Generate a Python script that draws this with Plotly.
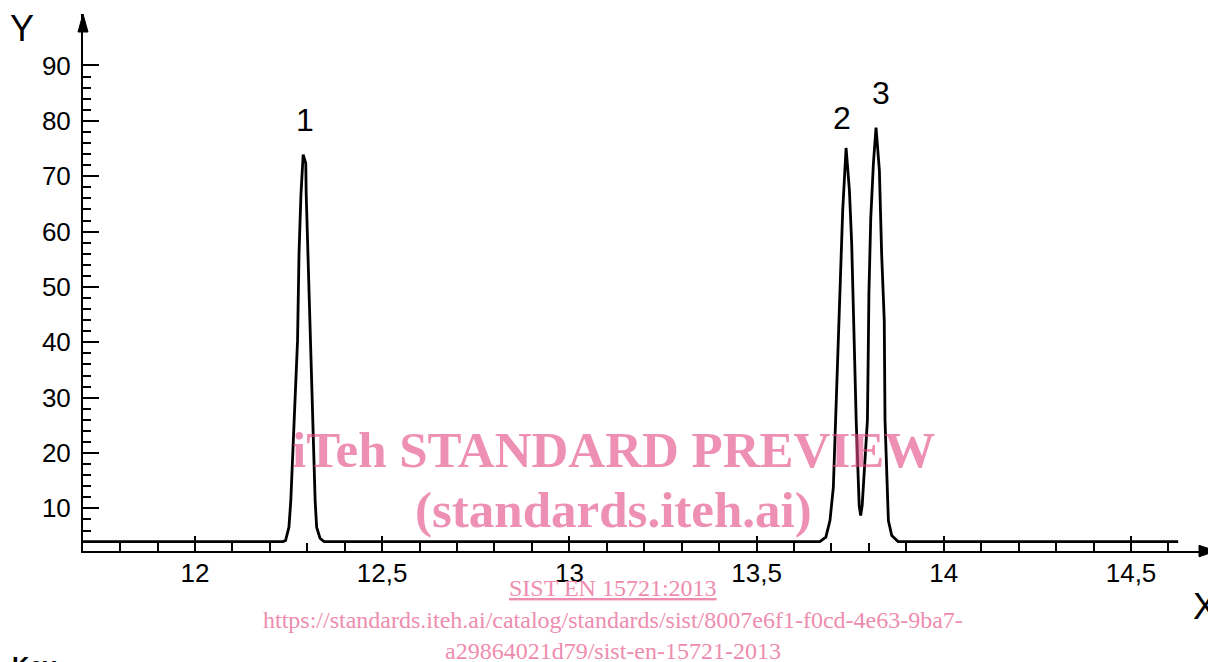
import plotly.graph_objects as go

# ---- data ----
baseline_y = 4.0
start_x = 11.701
end_x = 14.626

peak1_x = [12.235, 12.242, 12.251, 12.256, 12.264, 12.271, 12.274, 12.278, 12.283, 12.289,
           12.296, 12.297, 12.301, 12.307, 12.310, 12.316, 12.321, 12.325, 12.334, 12.345]
peak1_y = [4.0, 4.2, 6.6, 11.4, 23.5, 33.1, 40.3, 56.2, 66.5, 73.9,
           72.3, 67.0, 57.1, 45.4, 38.6, 23.5, 11.4, 6.6, 4.6, 4.0]

peak23_x = [13.669, 13.685, 13.696, 13.705, 13.711, 13.716, 13.720, 13.723, 13.730, 13.739,
            13.748, 13.754, 13.758, 13.762, 13.766, 13.772, 13.774, 13.778,
            13.782, 13.785, 13.796, 13.798, 13.799, 13.800, 13.805, 13.812, 13.819,
            13.828, 13.834, 13.841, 13.843, 13.848, 13.852, 13.861, 13.878]
peak23_y = [4.0, 4.8, 7.8, 13.8, 25.9, 36.7, 43.9, 53.0, 63.8, 75.1,
            67.4, 57.8, 43.9, 36.7, 25.9, 13.8, 10.5, 8.7,
            10.5, 13.8, 25.9, 36.7, 43.9, 48.8, 62.5, 72.3, 78.8,
            71.0, 56.0, 43.9, 25.9, 13.8, 7.8, 5.1, 4.0]

peak_labels = ["1", "2", "3"]
peak_label_x = [12.294, 13.728, 13.833]
peak_label_y = [80.2, 80.6, 85.0]

x_major = [12, 12.5, 13, 13.5, 14, 14.5]
x_major_text = ["12", "12,5", "13", "13,5", "14", "14,5"]
x_minor = [round(11.8 + 0.1 * i, 1) for i in range(29)]
y_major = [10, 20, 30, 40, 50, 60, 70, 80, 90]
y_minor = [4, 6, 8] + [v for v in range(12, 90, 2) if v % 10]

x_all = [start_x] + peak1_x + peak23_x + [end_x]
y_all = [baseline_y] + peak1_y + peak23_y + [baseline_y]

# ---- figure ----
W, H = 1216, 662
OFF = 8  # page body margin offset
# target screen positions of plot area: left 83, right 1216, top 14, bottom 550.7
L = 83 - OFF
T = 14 - OFF
R = W - (1216 - OFF)
B = H - (550.7 - OFF)
x_range = [11.701, 14.727]
y_range = [2.3, 99.3]

fig = go.Figure()
fig.add_trace(go.Scatter(x=x_all, y=y_all, mode="lines",
                         line=dict(color="black", width=2.8), hoverinfo="skip",
                         showlegend=False))

font_axis = dict(family="Liberation Sans, Arial, sans-serif", size=26, color="black")

fig.update_layout(
    width=W, height=H,
    margin=dict(l=L, r=R, t=T, b=B, pad=0),
    paper_bgcolor="white", plot_bgcolor="white",
    showlegend=False,
    xaxis=dict(range=x_range, showgrid=False, zeroline=False,
               showline=True, linecolor="black", linewidth=2,
               ticks="inside", ticklen=15, tickwidth=1.6, tickcolor="black",
               tickvals=x_major, ticktext=x_major_text, tickfont=font_axis,
               ticklabelstandoff=-2,
               minor=dict(tickvals=x_minor, ticks="inside", ticklen=8,
                          tickwidth=1.6, tickcolor="black", showgrid=False)),
    yaxis=dict(range=y_range, showgrid=False, zeroline=False,
               showline=True, linecolor="black", linewidth=2,
               ticks="inside", ticklen=16, tickwidth=1.6, tickcolor="black",
               tickvals=y_major, tickfont=font_axis,
               ticklabelstandoff=5,
               minor=dict(tickvals=y_minor, ticks="inside", ticklen=8,
                          tickwidth=1.6, tickcolor="black", showgrid=False)),
)

pw = W - L - R
ph = H - T - B


def px_to_paper(px, py):
    # px, py are target screen pixels
    fx, fy = px - OFF, py - OFF
    return (fx - L) / pw, (H - B - fy) / ph


# arrows
x0, y0 = px_to_paper(1199, 545)
x1, y1 = px_to_paper(1199, 556.5)
fig.add_shape(type="path", xref="paper", yref="paper",
              path=f"M 1 0 L {x0} {y0} L {x1} {y1} Z",
              fillcolor="black", line=dict(color="black", width=1))
ax0, ay0 = px_to_paper(78, 32)
ax1, ay1 = px_to_paper(88, 32)
fig.add_shape(type="path", xref="paper", yref="paper",
              path=f"M 0 1 L {ax0} {ay0} L {ax1} {ay1} Z",
              fillcolor="black", line=dict(color="black", width=1))

# peak labels
for t, xx, yy in zip(peak_labels, peak_label_x, peak_label_y):
    fig.add_annotation(x=xx, y=yy, text=t, showarrow=False,
                       font=dict(family="Liberation Sans, Arial", size=32, color="black"),
                       xanchor="center", yanchor="middle")

# axis letters
xp, yp = px_to_paper(22, 28)
fig.add_annotation(x=xp, y=yp, xref="paper", yref="paper", text="Y", showarrow=False,
                   font=dict(family="Liberation Sans, Arial", size=36, color="black"),
                   xanchor="center", yanchor="middle")
xp, yp = px_to_paper(1205, 606)
fig.add_annotation(x=xp, y=yp, xref="paper", yref="paper", text="X", showarrow=False,
                   font=dict(family="Liberation Sans, Arial", size=36, color="black"),
                   xanchor="center", yanchor="middle")

# "Key" partially visible at bottom
xp, yp = px_to_paper(10, 650)
fig.add_annotation(x=xp, y=yp, xref="paper", yref="paper", text="<b>Key</b>", showarrow=False,
                   font=dict(family="Liberation Sans, Arial", size=24, color="black"),
                   xanchor="left", yanchor="top")

# watermark
pink = "rgba(226,70,128,0.6)"
serif = "Liberation Serif, Times New Roman, serif"
for text, cy, size in [("<b>iTeh STANDARD PREVIEW</b>", 450, 51),
                       ("<b>(standards.iteh.ai)</b>", 510, 51)]:
    xp, yp = px_to_paper(613, cy)
    fig.add_annotation(x=xp, y=yp, xref="paper", yref="paper", text=text, showarrow=False,
                       font=dict(family=serif, size=size, color=pink),
                       xanchor="center", yanchor="middle")
pink2 = "rgb(238,140,175)"
for text, cy in [("<u>SIST EN 15721:2013</u>", 588),
                 ("https://standards.iteh.ai/catalog/standards/sist/8007e6f1-f0cd-4e63-9ba7-", 620),
                 ("a29864021d79/sist-en-15721-2013", 651)]:
    xp, yp = px_to_paper(613, cy)
    fig.add_annotation(x=xp, y=yp, xref="paper", yref="paper", text=text, showarrow=False,
                       font=dict(family=serif, size=24, color=pink2),
                       xanchor="center", yanchor="middle")

fig.write_html("out.html")
